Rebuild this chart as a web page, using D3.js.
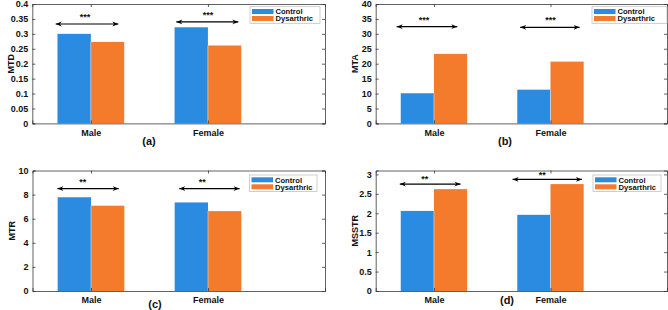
<!DOCTYPE html>
<html lang="en">
<head>
    <meta charset="UTF-8" />
    <title>Bar charts</title>
    <script src="https://d3js.org/d3.v7.min.js"></script>
    <style>
        body { margin: 0; background: #fff; }
        svg text { font-family: "Liberation Sans", Arial, sans-serif; font-weight: bold; fill: #111; }
    </style>
</head>
<body>
    <div id="chart"></div>
    <script>
// categories and series
var groups = ["Male", "Female"];
var seriesNames = ["Control", "Dysarthric"];
var seriesColors = ["#2b8be0", "#f47b2c"];

// values per measure, [Male, Female]
var mtdControl = [0.300, 0.322];
var mtdDysarthric = [0.273, 0.261];
var mtaControl = [10.1, 11.3];
var mtaDysarthric = [23.3, 20.7];
var mtrControl = [7.78, 7.35];
var mtrDysarthric = [7.08, 6.63];
var msstrControl = [2.06, 1.96];
var msstrDysarthric = [2.62, 2.75];

// tick labels
var mtdTicks = [0, 0.05, 0.1, 0.15, 0.2, 0.25, 0.3, 0.35, 0.4];
var mtaTicks = [0, 5, 10, 15, 20, 25, 30, 35, 40];
var mtrTicks = [0, 2, 4, 6, 8, 10];
var msstrTicks = [0, 0.5, 1, 1.5, 2, 2.5, 3];

// significance brackets: [x1, x2, y] in data units, plus the stars
var mtdSig = [[0.70, 1.235, 0.333], [1.73, 2.26, 0.340]];
var mtaSig = [[0.68, 1.20, 32.4], [1.74, 2.25, 32.2]];
var mtrSig = [[0.713, 1.237, 8.5], [1.754, 2.27, 8.5]];
var msstrSig = [[0.707, 1.228, 2.75], [1.675, 2.27, 2.87]];
var mtdStars = [[0.95, 0.362, "***"], [2.0, 0.369, "***"]];
var mtaStars = [[0.915, 35.4, "***"], [2.0, 35.4, "***"]];
var mtrStars = [[0.93, 9.25, "**"], [1.95, 9.25, "**"]];
var msstrStars = [[0.92, 2.94, "**"], [1.93, 3.03, "**"]];

var panels = [
    { label: "MTD", caption: "(a)", control: mtdControl, dys: mtdDysarthric, ticks: mtdTicks, yMax: 0.4, sig: mtdSig, stars: mtdStars,
      left: 32.3, right: 325, top: 4, bottom: 123.4, capX: 149, capY: 145, legX: 250, legY: 6.7, legW: 70 },
    { label: "MTA", caption: "(b)", control: mtaControl, dys: mtaDysarthric, ticks: mtaTicks, yMax: 40, sig: mtaSig, stars: mtaStars,
      left: 375.7, right: 667, top: 4, bottom: 123.4, capX: 505, capY: 145, legX: 592, legY: 6.7, legW: 75 },
    { label: "MTR", caption: "(c)", control: mtrControl, dys: mtrDysarthric, ticks: mtrTicks, yMax: 10, sig: mtrSig, stars: mtrStars,
      left: 32.5, right: 325, top: 170.5, bottom: 291, capX: 155, capY: 307.5, legX: 249.5, legY: 175, legW: 67.5 },
    { label: "MSSTR", caption: "(d)", control: msstrControl, dys: msstrDysarthric, ticks: msstrTicks, yMax: 3.1, sig: msstrSig, stars: msstrStars,
      left: 375.7, right: 667, top: 170.5, bottom: 291, capX: 507, capY: 304, legX: 593, legY: 175, legW: 68 }
];

var width = 668, height = 310;
var svg = d3.select("#chart").append("svg")
    .attr("width", width)
    .attr("height", height);

var defs = svg.append("defs");
defs.append("marker")
    .attr("id", "arrowEnd")
    .attr("viewBox", "0 0 10 10")
    .attr("refX", 10).attr("refY", 5)
    .attr("markerUnits", "userSpaceOnUse")
    .attr("markerWidth", 8).attr("markerHeight", 6)
    .attr("orient", "auto-start-reverse")
    .append("path")
    .attr("d", "M0,1 L10,5 L0,9 L3,5 Z")
    .attr("fill", "#000");

var barW = 0.285;
var axisColor = "#3a3a3a";

function drawPanel(p) {
    var x = d3.scaleLinear().domain([0.5, 3]).range([p.left, p.right]);
    var y = d3.scaleLinear().domain([0, p.yMax]).range([p.bottom, p.top]);
    var g = svg.append("g");

    // bars
    var rows = groups.map(function(name, i) {
        return { pos: i + 1, values: [p.control[i], p.dys[i]] };
    });
    rows.forEach(function(r) {
        r.values.forEach(function(v, s) {
            var x0 = r.pos + (s === 0 ? -barW : 0);
            g.append("rect")
                .attr("x", x(x0))
                .attr("y", y(v))
                .attr("width", x(x0 + barW) - x(x0))
                .attr("height", y(0) - y(v))
                .attr("fill", seriesColors[s]);
        });
        // thin light seam between the pair
        g.append("line")
            .attr("x1", x(r.pos)).attr("x2", x(r.pos))
            .attr("y1", y(Math.min(r.values[0], r.values[1]))).attr("y2", y(0))
            .attr("stroke", "#cfe3f5").attr("stroke-width", 0.6);
    });

    // axes: left/right with inward ticks, bottom with category labels
    var yl = g.append("g").attr("transform", "translate(" + p.left + ",0)")
        .call(d3.axisLeft(y).tickValues(p.ticks).tickSize(-3).tickPadding(4).tickFormat(d3.format("~g")));
    var yr = g.append("g").attr("transform", "translate(" + p.right + ",0)")
        .call(d3.axisRight(y).tickValues(p.ticks).tickSize(-3).tickFormat(""));
    var xb = g.append("g").attr("transform", "translate(0," + p.bottom + ")")
        .call(d3.axisBottom(x).tickValues([1, 2]).tickSize(-3).tickPadding(6)
            .tickFormat(function(d) { return groups[d - 1]; }));
    var xt = g.append("g").attr("transform", "translate(0," + p.top + ")")
        .call(d3.axisTop(x).tickValues([1, 2]).tickSize(-3).tickFormat(""));
    [yl, yr, xb, xt].forEach(function(a) {
        a.select(".domain").attr("stroke", axisColor).attr("stroke-width", 0.8);
        a.selectAll(".tick line").attr("stroke", axisColor).attr("stroke-width", 0.8);
        a.selectAll("text").attr("font-size", 9).attr("fill", "#111")
            .attr("font-family", "Liberation Sans, Arial, sans-serif").attr("font-weight", "bold");
    });

    // y label
    g.append("text")
        .attr("transform", "translate(" + (p.left - 18) + "," + ((p.top + p.bottom) / 2) + ") rotate(-90)")
        .attr("text-anchor", "middle")
        .attr("font-size", 9)
        .text(p.label);

    // caption
    g.append("text")
        .attr("x", p.capX).attr("y", p.capY)
        .attr("text-anchor", "middle")
        .attr("font-size", 11)
        .text(p.caption);

    // significance arrows
    p.sig.forEach(function(s) {
        g.append("line")
            .attr("x1", x(s[0])).attr("x2", x(s[1]))
            .attr("y1", y(s[2])).attr("y2", y(s[2]))
            .attr("stroke", "#000").attr("stroke-width", 1.2)
            .attr("marker-start", "url(#arrowEnd)")
            .attr("marker-end", "url(#arrowEnd)");
    });
    p.stars.forEach(function(s) {
        g.append("text")
            .attr("x", x(s[0])).attr("y", y(s[1]) + 5)
            .attr("text-anchor", "middle")
            .attr("font-size", 9)
            .text(s[2]);
    });

    // legend
    var leg = g.append("g").attr("transform", "translate(" + p.legX + "," + p.legY + ")");
    leg.append("rect")
        .attr("width", p.legW).attr("height", 16.6)
        .attr("fill", "#fff").attr("stroke", "#bbb").attr("stroke-width", 0.7);
    seriesNames.forEach(function(name, i) {
        leg.append("rect")
            .attr("x", 2).attr("y", 2.3 + i * 7)
            .attr("width", 21.5).attr("height", 5)
            .attr("fill", seriesColors[i]);
        leg.append("text")
            .attr("x", 25.5).attr("y", 7.6 + i * 7)
            .attr("font-size", 7.6)
            .text(name);
    });
}

panels.forEach(drawPanel);
    </script>
</body>
</html>
